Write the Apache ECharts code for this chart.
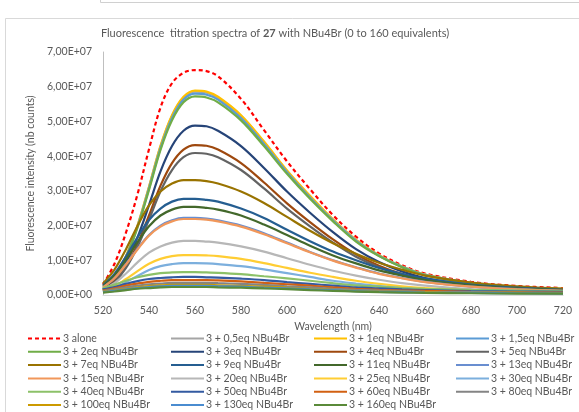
<!DOCTYPE html>
<html lang="en">

<head>
    <meta charset="UTF-8">
    <title>Fluorescence titration spectra</title>
    <style>
        html, body { margin: 0; padding: 0; background: #fff; }
        #main { width: 579px; height: 412px; }
    </style>
</head>

<body>
    <div id="main"></div>
</body>
<script src="https://cdn.jsdelivr.net/npm/echarts@6/dist/echarts.min.js"></script>
<script>
    // wavelengths (nm), intensities in units of 1e6 counts
    var wavelengths = [520, 525, 530, 535, 540, 545, 550, 555, 560, 565, 570, 580, 590, 600, 610, 620, 630, 640, 650, 660, 680, 700, 720]

    var alone = [3.0, 9.0, 18.0, 29.0, 42.0, 54.0, 61.0, 64.0, 64.8, 64.5, 63.0, 56.5, 47.5, 38.5, 30.5, 23.0, 16.8, 12.0, 8.6, 6.2, 3.8, 2.6, 2.0]
    var eq0_5 = [1.8, 5.3, 11.1, 19.9, 31.1, 42.8, 51.6, 56.8, 58.6, 58.3, 56.8, 51.6, 44.0, 35.7, 28.4, 21.7, 15.8, 11.4, 8.2, 5.9, 3.5, 2.2, 1.8]
    var eq1 = [1.8, 5.3, 11.2, 20.0, 31.2, 43.0, 51.8, 57.1, 58.9, 58.6, 57.1, 51.8, 44.2, 35.9, 28.6, 21.8, 15.9, 11.5, 8.2, 5.9, 3.5, 2.2, 1.8]
    var eq1_5 = [1.7, 5.2, 11.0, 19.7, 30.7, 42.3, 51.0, 56.3, 58.0, 57.7, 56.3, 51.0, 43.5, 35.4, 28.1, 21.5, 15.7, 11.3, 8.1, 5.8, 3.5, 2.2, 1.7]
    var eq2 = [1.7, 5.1, 10.9, 19.4, 30.3, 41.8, 50.3, 55.5, 57.2, 56.9, 55.5, 50.3, 42.9, 34.9, 27.7, 21.2, 15.4, 11.2, 8.0, 5.7, 3.4, 2.2, 1.7]
    var eq3 = [1.5, 4.4, 9.3, 16.6, 25.9, 35.6, 42.9, 47.3, 48.8, 48.6, 47.3, 42.9, 36.6, 29.8, 23.7, 18.1, 13.2, 9.5, 6.8, 4.9, 2.9, 1.9, 1.5]
    var eq4 = [1.3, 3.9, 8.2, 14.7, 22.9, 31.5, 38.0, 41.9, 43.2, 43.0, 41.9, 38.0, 32.4, 26.4, 21.0, 16.0, 11.7, 8.4, 6.0, 4.3, 2.6, 1.6, 1.3]
    var eq5 = [1.2, 3.7, 7.8, 13.9, 21.7, 29.9, 36.0, 39.7, 40.9, 40.7, 39.7, 36.0, 30.7, 24.9, 19.8, 15.1, 11.0, 8.0, 5.7, 4.1, 2.5, 1.6, 1.2]
    var eq7 = [3.3, 7.3, 13.2, 19.9, 25.8, 29.8, 32.1, 33.1, 33.1, 32.8, 32.1, 29.8, 26.5, 22.5, 18.5, 14.9, 11.9, 9.3, 7.3, 5.6, 3.6, 2.5, 1.8]
    var eq9 = [2.8, 6.1, 11.1, 16.6, 21.6, 24.9, 26.9, 27.7, 27.7, 27.4, 26.9, 24.9, 22.2, 18.8, 15.5, 12.5, 10.0, 7.8, 6.1, 4.7, 3.0, 2.1, 1.5]
    var eq11 = [2.5, 5.6, 10.2, 15.2, 19.8, 22.9, 24.6, 25.4, 25.4, 25.1, 24.6, 22.9, 20.3, 17.3, 14.2, 11.4, 9.1, 7.1, 5.6, 4.3, 2.8, 1.9, 1.4]
    var eq13 = [2.2, 4.9, 8.9, 13.3, 17.3, 20.0, 21.5, 22.2, 22.2, 22.0, 21.5, 20.0, 17.8, 15.1, 12.4, 10.0, 8.0, 6.2, 4.9, 3.8, 2.4, 1.7, 1.2]
    var eq15 = [2.2, 4.8, 8.8, 13.1, 17.1, 19.7, 21.2, 21.9, 21.9, 21.7, 21.2, 19.7, 17.5, 14.9, 12.3, 9.9, 7.9, 6.1, 4.8, 3.7, 2.4, 1.6, 1.2]
    var eq20 = [1.6, 3.4, 6.2, 9.4, 12.2, 14.0, 15.1, 15.6, 15.6, 15.4, 15.1, 14.0, 12.5, 10.6, 8.7, 7.0, 5.6, 4.4, 3.4, 2.7, 1.7, 1.2, 0.9]
    var eq25 = [1.2, 2.5, 4.6, 6.9, 9.0, 10.4, 11.2, 11.5, 11.5, 11.4, 11.2, 10.4, 9.2, 7.8, 6.4, 5.2, 4.1, 3.2, 2.5, 2.0, 1.3, 0.9, 0.6]
    var eq30 = [0.9, 2.0, 3.7, 5.5, 7.2, 8.3, 8.9, 9.2, 9.2, 9.1, 8.9, 8.3, 7.4, 6.3, 5.2, 4.1, 3.3, 2.6, 2.0, 1.6, 1.0, 0.7, 0.5]
    var eq40 = [2.0, 3.0, 4.1, 5.1, 5.8, 6.3, 6.5, 6.6, 6.6, 6.5, 6.4, 6.0, 5.4, 4.8, 4.1, 3.4, 2.8, 2.4, 2.0, 1.8, 1.5, 1.3, 1.1]
    var eq50 = [1.6, 2.3, 3.2, 4.0, 4.6, 4.9, 5.1, 5.2, 5.2, 5.1, 5.0, 4.7, 4.3, 3.7, 3.2, 2.7, 2.2, 1.9, 1.6, 1.4, 1.1, 1.0, 0.9]
    var eq60 = [1.3, 1.9, 2.7, 3.3, 3.8, 4.1, 4.3, 4.3, 4.3, 4.3, 4.2, 3.9, 3.5, 3.1, 2.7, 2.2, 1.8, 1.5, 1.3, 1.2, 0.9, 0.8, 0.7]
    var eq80 = [1.1, 1.6, 2.2, 2.7, 3.1, 3.3, 3.5, 3.5, 3.5, 3.5, 3.4, 3.2, 2.9, 2.5, 2.2, 1.8, 1.5, 1.3, 1.1, 0.9, 0.8, 0.7, 0.6]
    var eq100 = [0.9, 1.3, 1.8, 2.2, 2.6, 2.8, 2.9, 2.9, 2.9, 2.9, 2.8, 2.6, 2.4, 2.1, 1.8, 1.5, 1.2, 1.0, 0.9, 0.8, 0.6, 0.6, 0.5]
    var eq130 = [0.8, 1.2, 1.6, 2.0, 2.3, 2.5, 2.6, 2.6, 2.6, 2.6, 2.5, 2.4, 2.1, 1.9, 1.6, 1.4, 1.1, 0.9, 0.8, 0.7, 0.6, 0.5, 0.4]
    var eq160 = [0.7, 1.0, 1.4, 1.8, 2.0, 2.2, 2.3, 2.3, 2.3, 2.3, 2.2, 2.1, 1.9, 1.7, 1.4, 1.2, 1.0, 0.8, 0.7, 0.6, 0.5, 0.4, 0.4]

    var names = ['3 alone', '3 + 0,5eq NBu4Br', '3 + 1eq NBu4Br', '3 + 1,5eq NBu4Br',
        '3 + 2eq NBu4Br', '3 + 3eq NBu4Br', '3 + 4eq NBu4Br', '3 + 5eq NBu4Br',
        '3 + 7eq NBu4Br', '3 + 9eq NBu4Br', '3 + 11eq NBu4Br', '3 + 13eq NBu4Br',
        '3 + 15eq NBu4Br', '3 + 20eq NBu4Br', '3 + 25eq NBu4Br', '3 + 30eq NBu4Br',
        '3 + 40eq NBu4Br', '3 + 50eq NBu4Br', '3 + 60eq NBu4Br', '3 + 80eq NBu4Br',
        '3 + 100eq NBu4Br', '3 + 130eq NBu4Br', '3 + 160eq NBu4Br']
    var values = [alone, eq0_5, eq1, eq1_5, eq2, eq3, eq4, eq5, eq7, eq9, eq11, eq13,
        eq15, eq20, eq25, eq30, eq40, eq50, eq60, eq80, eq100, eq130, eq160]
    var colors = ['#FF0000', '#A5A5A5', '#FFC000', '#5B9BD5', '#70AD47', '#264478', '#9E480E', '#636363',
        '#997300', '#255E91', '#43682B', '#698ED0', '#F1975A', '#B7B7B7', '#FFCD33', '#7CAFDD',
        '#8CC168', '#335AA1', '#D26012', '#848484', '#CC9A00', '#4A8CD0', '#5A8A39']

    var font = 'Lato'
    var txt = '#595959'

    function sci(v) {
        if (v === 0) return '0,00E+00'
        var e = Math.floor(Math.log10(v) + 1e-9)
        var m = v / Math.pow(10, e)
        return m.toFixed(2).replace('.', ',') + 'E+' + (e < 10 ? '0' : '') + e
    }

    var series = []
    for (var i = 0; i < names.length; i++) {
        var pts = []
        for (var j = 0; j < wavelengths.length; j++) {
            pts.push([wavelengths[j], values[i][j] * 1e6])
        }
        series.push({
            name: names[i],
            type: 'line',
            data: pts,
            smooth: 0.35,
            symbol: 'none',
            color: colors[i],
            lineStyle: {
                width: 2.2,
                type: i === 0 ? [4, 3] : 'solid',
                color: colors[i]
            },
            emphasis: { disabled: true }
        })
    }

    // legend columns, 4 across
    var colX = [27, 170, 313, 455]
    var legends = []
    for (var c = 0; c < 4; c++) {
        var d = []
        for (var k = c; k < names.length; k += 4) d.push(names[k])
        legends.push({
            data: d,
            orient: 'vertical',
            left: colX[c],
            top: 333,
            height: 120,
            itemWidth: 33,
            itemHeight: 10,
            itemGap: 2.3,
            padding: 0,
            selectedMode: false,
            itemStyle: { opacity: 0 },
            textStyle: { color: txt, fontSize: 10.5, fontFamily: font, lineHeight: 10, padding: [0, 0, 0, -3] }
        })
    }

    var main = document.getElementById("main")
    var myChart = echarts.init(main)
    var option = {
        animation: false,
        backgroundColor: '#fff',
        title: {
            text: 'Fluorescence  titration spectra of {b|27} with NBu4Br (0 to 160 equivalents)',
            left: 270,
            textAlign: 'center',
            top: 23,
            textStyle: {
                color: txt, fontSize: 11, fontWeight: 'normal', fontFamily: font,
                rich: { b: { fontWeight: 'bold', fontSize: 11, color: txt, fontFamily: font } }
            }
        },
        graphic: [
            { type: 'rect', shape: { x: 5.5, y: 18.5, width: 600, height: 420 }, style: { fill: 'none', stroke: '#D9D9D9', lineWidth: 1 }, silent: true },
            { type: 'rect', shape: { x: 100.5, y: -10, width: 600, height: 12.5 }, style: { fill: 'none', stroke: '#D0D0D0', lineWidth: 1 }, silent: true }
        ],
        legend: legends,
        grid: { left: 103, right: 16, top: 52, bottom: 117 },
        xAxis: {
            type: 'value',
            min: 520,
            max: 720,
            interval: 20,
            name: 'Wavelength (nm)',
            nameLocation: 'middle',
            nameGap: 25,
            nameTextStyle: { color: txt, fontSize: 10.5, fontFamily: font },
            axisLine: { show: true, lineStyle: { color: '#D9D9D9' } },
            axisTick: { show: false },
            splitLine: { show: false },
            axisLabel: { color: txt, fontSize: 10.5, fontFamily: font, margin: 10 }
        },
        yAxis: {
            type: 'value',
            min: 0,
            max: 70000000,
            interval: 10000000,
            name: 'Fluorescence intensity (nb counts)',
            nameLocation: 'middle',
            nameGap: 58,
            nameTextStyle: { color: txt, fontSize: 10.5, fontFamily: font },
            axisLine: { show: true, lineStyle: { color: '#BFBFBF' } },
            axisTick: { show: false },
            splitLine: { show: false },
            axisLabel: { color: txt, fontSize: 10.5, fontFamily: font, margin: 11, formatter: sci }
        },
        series: series
    }
    myChart.setOption(option)
</script>

</html>
